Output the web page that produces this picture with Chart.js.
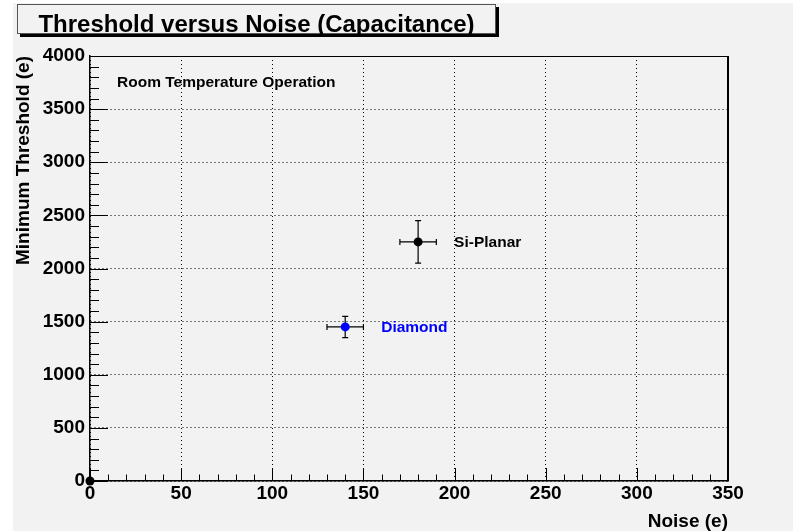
<!DOCTYPE html>
<html>
<head>
<meta charset="utf-8">
<script src="https://cdn.jsdelivr.net/npm/chart.js@4/dist/chart.umd.min.js"></script>
<style>
  html, body { margin: 0; padding: 0; background: #ffffff; }
  canvas { display: block; }
</style>
</head>
<body>
<canvas id="graficoLimiar" width="793" height="531"></canvas>
<script>
// =====================================================
// DADOS
// =====================================================
const detectores = ["Si-Planar", "Diamond"];
const ruido = [180, 140];          // Noise (e)
const limiar = [2250, 1450];       // Minimum Threshold (e)
const erroRuido = [10, 10];
const erroLimiar = [200, 100];
const coresDetector = ["#000000", "#0000ff"];

const origemRuido = [0];
const origemLimiar = [0];

const ticksX = [0, 50, 100, 150, 200, 250, 300, 350];
const rotulosX = ["0", "50", "100", "150", "200", "250", "300", "350"];
const ticksY = [0, 500, 1000, 1500, 2000, 2500, 3000, 3500, 4000];
const rotulosY = ["0", "500", "1000", "1500", "2000", "2500", "3000", "3500", "4000"];

const FONTE = '"Liberation Sans", Arial, Helvetica, sans-serif';
const FUNDO = "#f2f2f2";

// =====================================================
// PLUGINS
// =====================================================
const fundoPlugin = {
  id: "fundo",
  beforeDraw(chart) {
    const ctx = chart.ctx;
    ctx.save();
    ctx.fillStyle = FUNDO;
    ctx.fillRect(13, 3, chart.width - 13, chart.height - 3);
    ctx.restore();
  }
};

// barras de erro em x e y, com traço no fim
const barrasErroPlugin = {
  id: "barrasErro",
  beforeDatasetsDraw(chart) {
    const { ctx, scales: { x, y } } = chart;
    const cap = 3;
    ctx.save();
    ctx.strokeStyle = "#000";
    ctx.lineWidth = 1.2;
    detectores.forEach((_, i) => {
      const px = x.getPixelForValue(ruido[i]);
      const py = y.getPixelForValue(limiar[i]);
      const x0 = x.getPixelForValue(ruido[i] - erroRuido[i]);
      const x1 = x.getPixelForValue(ruido[i] + erroRuido[i]);
      const y0 = y.getPixelForValue(limiar[i] - erroLimiar[i]);
      const y1 = y.getPixelForValue(limiar[i] + erroLimiar[i]);

      ctx.beginPath();
      ctx.moveTo(x0, py); ctx.lineTo(x1, py);
      ctx.moveTo(x0, py - cap); ctx.lineTo(x0, py + cap);
      ctx.moveTo(x1, py - cap); ctx.lineTo(x1, py + cap);
      ctx.moveTo(px, y0); ctx.lineTo(px, y1);
      ctx.moveTo(px - cap, y0); ctx.lineTo(px + cap, y0);
      ctx.moveTo(px - cap, y1); ctx.lineTo(px + cap, y1);
      ctx.stroke();
    });
    ctx.restore();
  }
};

// moldura, ticks para dentro, título em caixa e textos
const molduraPlugin = {
  id: "moldura",
  afterDatasetsDraw(chart) {
    const { ctx, chartArea: a, scales: { x, y } } = chart;
    ctx.save();
    ctx.strokeStyle = "#000";
    ctx.lineWidth = 1;

    // ticks do eixo x (principais a cada 50, menores a cada 10)
    ctx.beginPath();
    for (let v = 0; v <= 350; v += 10) {
      const px = Math.round(x.getPixelForValue(v)) + 0.5;
      const len = v % 50 === 0 ? 13 : 6.5;
      ctx.moveTo(px, a.bottom);
      ctx.lineTo(px, a.bottom - len);
    }
    // ticks do eixo y (principais a cada 500, menores a cada 100)
    for (let v = 0; v <= 4000; v += 100) {
      const py = Math.round(y.getPixelForValue(v)) + 0.5;
      const len = v % 500 === 0 ? 18 : 9;
      ctx.moveTo(a.left, py);
      ctx.lineTo(a.left + len, py);
    }
    ctx.stroke();

    // lados de cima e da direita
    ctx.beginPath();
    ctx.lineWidth = 1;
    ctx.moveTo(a.left, Math.round(a.top) + 0.5);
    ctx.lineTo(a.right, Math.round(a.top) + 0.5);
    ctx.stroke();
    ctx.beginPath();
    ctx.lineWidth = 2;
    ctx.moveTo(Math.round(a.right), a.top);
    ctx.lineTo(Math.round(a.right), a.bottom);
    ctx.stroke();
    ctx.restore();
  },
  afterDraw(chart) {
    const { ctx, scales: { x, y } } = chart;
    ctx.save();

    // caixa do título com sombra
    ctx.fillStyle = "#000";
    ctx.fillRect(20, 7, 479, 30);
    ctx.fillStyle = FUNDO;
    ctx.fillRect(17, 4, 479, 30);
    ctx.strokeStyle = "#555";
    ctx.lineWidth = 1;
    ctx.strokeRect(17.5, 4.5, 478, 29);

    ctx.fillStyle = "#000";
    ctx.font = `bold 24px ${FONTE}`;
    ctx.textAlign = "center";
    ctx.textBaseline = "alphabetic";
    ctx.fillText("Threshold versus Noise (Capacitance)", 256.5, 32);

    ctx.textAlign = "left";
    ctx.font = `bold 15.5px ${FONTE}`;
    ctx.fillText("Room Temperature Operation", 117, 87);

    detectores.forEach((nome, i) => {
      const px = x.getPixelForValue(ruido[i]);
      const py = y.getPixelForValue(limiar[i]);
      ctx.fillStyle = coresDetector[i];
      ctx.fillText(nome, px + 36, py + 5);
    });
    ctx.restore();
  }
};

// =====================================================
// GRÁFICO
// =====================================================
const fonteEixo = { family: FONTE, size: 19, weight: "bold", lineHeight: 1 };

new Chart(document.getElementById("graficoLimiar"), {
  type: "scatter",
  data: {
    datasets: [
      {
        label: "origem",
        data: origemRuido.map((v, i) => ({ x: v, y: origemLimiar[i] })),
        backgroundColor: "#000",
        borderColor: "#000",
        pointRadius: 4.5,
        borderWidth: 0,
        clip: false
      },
      ...detectores.map((nome, i) => ({
        label: nome,
        data: [{ x: ruido[i], y: limiar[i] }],
        backgroundColor: coresDetector[i],
        borderColor: coresDetector[i],
        pointRadius: 4.5,
        borderWidth: 0,
        clip: false
      }))
    ]
  },
  options: {
    responsive: false,
    animation: false,
    devicePixelRatio: 1,
    layout: { padding: { left: 0, top: 56, right: 65, bottom: 0 } },
    plugins: {
      legend: { display: false },
      tooltip: { enabled: false }
    },
    scales: {
      x: {
        type: "linear",
        min: 0,
        max: 350,
        afterFit: s => { s.height = 50; },
        afterBuildTicks: s => { s.ticks = ticksX.map(v => ({ value: v })); },
        ticks: {
          callback: (v, i) => rotulosX[i],
          font: fonteEixo,
          color: "#000",
          padding: 3,
          maxRotation: 0,
          autoSkip: false
        },
        grid: { color: "#000", lineWidth: 1, drawTicks: false },
        border: { display: true, color: "#000", width: 1.5, dash: [1, 3] },
        title: {
          display: true,
          text: "Noise (e)",
          align: "end",
          font: fonteEixo,
          color: "#000",
          padding: 0
        }
      },
      y: {
        type: "linear",
        min: 0,
        max: 4000,
        afterFit: s => { s.width = 90; },
        afterBuildTicks: s => { s.ticks = ticksY.map(v => ({ value: v })); },
        ticks: {
          callback: (v, i) => rotulosY[i],
          font: fonteEixo,
          color: "#000",
          padding: 5,
          autoSkip: false
        },
        grid: { color: "#000", lineWidth: 1, drawTicks: false },
        border: { display: true, color: "#000", width: 1.5, dash: [1, 3] },
        title: {
          display: true,
          text: "Minimum Threshold (e)",
          align: "end",
          font: fonteEixo,
          color: "#000",
          padding: { top: 14, bottom: 0 }
        }
      }
    }
  },
  plugins: [fundoPlugin, barrasErroPlugin, molduraPlugin]
});
</script>
</body>
</html>
